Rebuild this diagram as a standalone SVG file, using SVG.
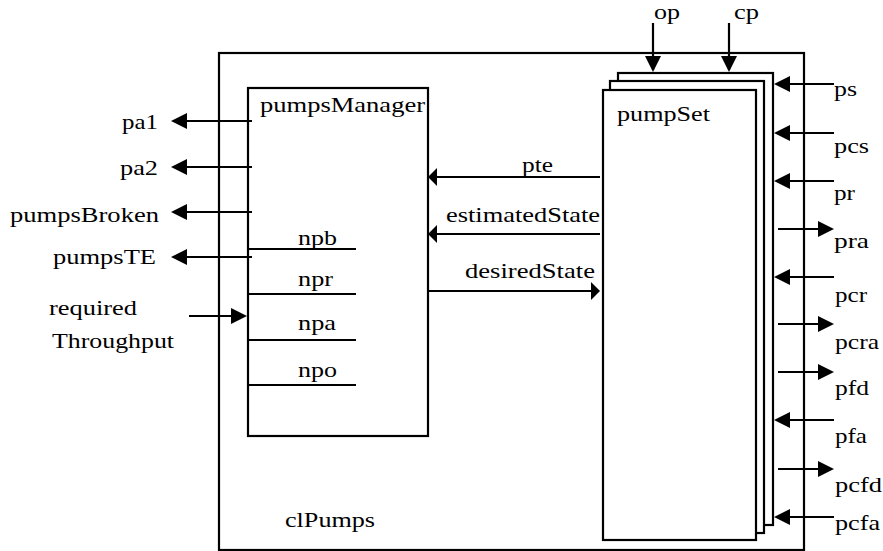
<svg xmlns="http://www.w3.org/2000/svg" width="883" height="551" viewBox="0 0 883 551">
<style>
.box{fill:#fff;stroke:#000;stroke-width:2.2}
.ln{fill:none;stroke:#000;stroke-width:2.2}
.t{font-family:"Liberation Serif","Times New Roman",Times,serif;font-size:22px;fill:#000}
.top{font-size:20px}
</style>
<defs>
<marker id="arr" markerUnits="userSpaceOnUse" markerWidth="16" markerHeight="16" refX="14" refY="8" orient="auto">
<path d="M0,0 L16,8 L0,16 Z" fill="#000"/>
</marker>
<marker id="arrs" markerUnits="userSpaceOnUse" markerWidth="10" markerHeight="18" refX="8" refY="9" orient="auto">
<path d="M0,0 L9,9 L0,18 Z" fill="#000"/>
</marker>
</defs>
<rect width="883" height="551" fill="#fff"/>
<g id="clPumps">
<rect class="box" x="219" y="53" width="585" height="497"/>
<text class="t" x="285" y="527" textLength="90" lengthAdjust="spacingAndGlyphs">clPumps</text>
</g>
<g id="pumpsManager">
<rect class="box" x="248" y="88" width="180" height="348"/>
<text class="t" x="260" y="112" textLength="165" lengthAdjust="spacingAndGlyphs">pumpsManager</text>
<line class="ln" x1="248" y1="249" x2="356" y2="249"/>
<line class="ln" x1="248" y1="294" x2="356" y2="294"/>
<line class="ln" x1="248" y1="340" x2="356" y2="340"/>
<line class="ln" x1="248" y1="385" x2="356" y2="385"/>
<text class="t" x="298" y="245" textLength="39" lengthAdjust="spacingAndGlyphs">npb</text>
<text class="t" x="298" y="286" textLength="35" lengthAdjust="spacingAndGlyphs">npr</text>
<text class="t" x="298" y="330" textLength="38" lengthAdjust="spacingAndGlyphs">npa</text>
<text class="t" x="298" y="377" textLength="39" lengthAdjust="spacingAndGlyphs">npo</text>
</g>
<g id="pumpSet">
<rect class="box" x="618" y="73" width="155" height="452"/>
<rect class="box" x="610" y="81" width="154" height="452"/>
<rect class="box" x="603" y="90" width="153" height="450"/>
<text class="t" x="617" y="121" textLength="93" lengthAdjust="spacingAndGlyphs">pumpSet</text>
</g>
<g id="connectors">
<line class="ln" x1="252" y1="121" x2="173" y2="121" marker-end="url(#arr)"/>
<line class="ln" x1="252" y1="167" x2="173" y2="167" marker-end="url(#arr)"/>
<line class="ln" x1="252" y1="212" x2="173" y2="212" marker-end="url(#arr)"/>
<line class="ln" x1="252" y1="257" x2="173" y2="257" marker-end="url(#arr)"/>
<line class="ln" x1="189" y1="316" x2="245" y2="316" marker-end="url(#arr)"/>
<line class="ln" x1="600" y1="177" x2="429" y2="177" marker-end="url(#arrs)"/>
<line class="ln" x1="600" y1="234" x2="429" y2="234" marker-end="url(#arrs)"/>
<line class="ln" x1="428" y1="291" x2="599" y2="291" marker-end="url(#arrs)"/>
<line class="ln" x1="653" y1="23" x2="653" y2="70" marker-end="url(#arr)"/>
<line class="ln" x1="729" y1="23" x2="729" y2="70" marker-end="url(#arr)"/>
<line class="ln" x1="834" y1="84" x2="776" y2="84" marker-end="url(#arr)"/>
<line class="ln" x1="834" y1="133" x2="776" y2="133" marker-end="url(#arr)"/>
<line class="ln" x1="834" y1="181" x2="776" y2="181" marker-end="url(#arr)"/>
<line class="ln" x1="778" y1="229" x2="832" y2="229" marker-end="url(#arr)"/>
<line class="ln" x1="834" y1="277" x2="776" y2="277" marker-end="url(#arr)"/>
<line class="ln" x1="778" y1="324" x2="832" y2="324" marker-end="url(#arr)"/>
<line class="ln" x1="778" y1="372" x2="832" y2="372" marker-end="url(#arr)"/>
<line class="ln" x1="834" y1="420" x2="776" y2="420" marker-end="url(#arr)"/>
<line class="ln" x1="778" y1="469" x2="832" y2="469" marker-end="url(#arr)"/>
<line class="ln" x1="834" y1="517" x2="776" y2="517" marker-end="url(#arr)"/>
</g>
<g id="labels">
<text class="t" x="122" y="129" textLength="36" lengthAdjust="spacingAndGlyphs">pa1</text>
<text class="t" x="120" y="175" textLength="38" lengthAdjust="spacingAndGlyphs">pa2</text>
<text class="t" x="10" y="222" textLength="149" lengthAdjust="spacingAndGlyphs">pumpsBroken</text>
<text class="t" x="53" y="264" textLength="103" lengthAdjust="spacingAndGlyphs">pumpsTE</text>
<text class="t" x="49" y="315" textLength="88" lengthAdjust="spacingAndGlyphs">required</text>
<text class="t" x="52" y="348" textLength="122" lengthAdjust="spacingAndGlyphs">Throughput</text>
<text class="t" x="522" y="172" textLength="31" lengthAdjust="spacingAndGlyphs">pte</text>
<text class="t" x="446" y="222" textLength="154" lengthAdjust="spacingAndGlyphs">estimatedState</text>
<text class="t" x="465" y="278" textLength="130" lengthAdjust="spacingAndGlyphs">desiredState</text>
<text class="t top" x="654" y="19" textLength="26" lengthAdjust="spacingAndGlyphs">op</text>
<text class="t top" x="734" y="19" textLength="25" lengthAdjust="spacingAndGlyphs">cp</text>
<text class="t" x="834" y="96" textLength="23" lengthAdjust="spacingAndGlyphs">ps</text>
<text class="t" x="834" y="153" textLength="35" lengthAdjust="spacingAndGlyphs">pcs</text>
<text class="t" x="834" y="200" textLength="21" lengthAdjust="spacingAndGlyphs">pr</text>
<text class="t" x="834" y="248" textLength="35" lengthAdjust="spacingAndGlyphs">pra</text>
<text class="t" x="835" y="302" textLength="32" lengthAdjust="spacingAndGlyphs">pcr</text>
<text class="t" x="835" y="349" textLength="44" lengthAdjust="spacingAndGlyphs">pcra</text>
<text class="t" x="835" y="395" textLength="34" lengthAdjust="spacingAndGlyphs">pfd</text>
<text class="t" x="835" y="443" textLength="32" lengthAdjust="spacingAndGlyphs">pfa</text>
<text class="t" x="835" y="492" textLength="47" lengthAdjust="spacingAndGlyphs">pcfd</text>
<text class="t" x="835" y="530" textLength="45" lengthAdjust="spacingAndGlyphs">pcfa</text>
</g>
</svg>
